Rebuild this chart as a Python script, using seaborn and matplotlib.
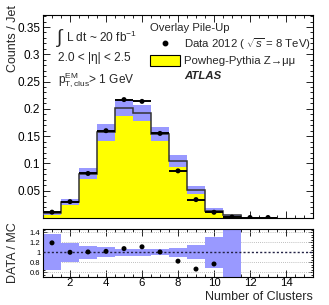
import numpy as np
import pandas as pd
import matplotlib
matplotlib.use("Agg")
import matplotlib.pyplot as plt
from matplotlib.ticker import MultipleLocator, FixedLocator
from matplotlib.lines import Line2D
from matplotlib.patches import Patch
import seaborn as sns

# number of clusters (bin centres)
clusters = [1, 2, 3, 4, 5, 6, 7, 8, 9, 10, 11, 12, 13]
# MC (Powheg-Pythia Z->mumu, overlay pile-up)
mc = [0.009, 0.030, 0.081, 0.157, 0.202, 0.1925, 0.154, 0.105, 0.0507, 0.0137, 0.0052, 0.0, 0.0]
mc_err = [0.0035, 0.0055, 0.010, 0.016, 0.0145, 0.0145, 0.0135, 0.011, 0.0075, 0.0045, 0.001, 0.0, 0.0]
# data 2012
data = [0.0107, 0.030, 0.0816, 0.160, 0.217, 0.2137, 0.155, 0.0864, 0.0337, 0.0105, 0.0016, 0.0009, 0.0009]
# ratio panel band (relative MC uncertainty)
ratio_err = [0.36, 0.19, 0.125, 0.10, 0.07, 0.07, 0.06, 0.095, 0.14, 0.31, 1.0, 0.0, 0.0]

sns.set_style("ticks")
plt.rcParams['font.family'] = ['Liberation Sans', 'DejaVu Sans']
plt.rcParams['mathtext.fontset'] = 'custom'
plt.rcParams['mathtext.rm'] = 'Liberation Sans'
plt.rcParams['mathtext.it'] = 'Liberation Sans:italic'
plt.rcParams['mathtext.bf'] = 'Liberation Sans:bold'

YELLOW = "#ffff00"
BAND = "#9999ff"
LINE = "#333333"

df = pd.DataFrame({"clusters": clusters, "mc": mc, "mc_err": mc_err,
                   "data": data, "ratio_err": ratio_err})
x = df["clusters"].to_numpy(dtype=float)
mcv = df["mc"].to_numpy()
errv = df["mc_err"].to_numpy()
datav = df["data"].to_numpy()
rerr = df["ratio_err"].to_numpy()
edges = list(np.append(x - 0.5, x[-1] + 0.5))

fig = plt.figure(figsize=(3.29, 3.05), dpi=100)
W, H = 329.0, 305.0
ax = fig.add_axes([43 / W, 1 - 218 / H, 270 / W, 203 / H])
rax = fig.add_axes([43 / W, 1 - 277 / H, 270 / W, 48 / H])

# main panel
sns.histplot(data=df, x="clusters", weights="mc", bins=edges, element="step", fill=True,
             color=YELLOW, alpha=1, linewidth=0, ax=ax)
mask = mcv > 0
ax.bar(x[mask], 2 * errv[mask], bottom=(mcv - errv)[mask], width=1.0,
       color=BAND, linewidth=0, zorder=3)
n_mc = int(mask.sum())
ax.stairs(mcv[:n_mc], edges[:n_mc + 1], color=LINE, linewidth=1.1, baseline=0, zorder=4)
ax.errorbar(x, datav, xerr=0.5, fmt="none", ecolor="black", elinewidth=1.4, zorder=5)
sns.scatterplot(data=df, x="clusters", y="data", color="black", s=13, edgecolor="none",
                zorder=6, ax=ax)

ax.set_xlim(0.5, 15.5)
ax.set_ylim(0, 0.372)
ax.set_xlabel("")
ax.set_ylabel("Counts / Jet", fontsize=9, loc="top")
ax.yaxis.set_label_coords(-0.09, 1.05)
ax.yaxis.set_major_locator(FixedLocator([0.05, 0.1, 0.15, 0.2, 0.25, 0.3, 0.35]))
ax.yaxis.set_minor_locator(MultipleLocator(0.01))
ax.set_yticklabels(["0.05", "0.1", "0.15", "0.2", "0.25", "0.3", "0.35"])

handles = [Line2D([], [], marker="o", color="black", linestyle="none", markersize=3.2),
           Patch(facecolor=YELLOW, edgecolor="black", linewidth=0.8),
           Patch(facecolor="none", edgecolor="none")]
labels = [r"Data 2012 ( $\sqrt{s}$ = 8 TeV)", "Powheg-Pythia Z\u2192\u03bc\u03bc", "ATLAS"]
leg = ax.legend(handles, labels, title="Overlay Pile-Up", loc="upper left",
                bbox_to_anchor=(0.397, 0.963), frameon=False, fontsize=8.2,
                title_fontsize=8.2, handlelength=2.6, handleheight=1.0,
                handletextpad=0.4, labelspacing=0.32, borderaxespad=0, borderpad=0)
leg._legend_box.align = "left"
leg.get_texts()[2].set_fontweight("bold")
leg.get_texts()[2].set_fontstyle("italic")

ax.text(0.05, 0.885, r"$\int$", transform=ax.transAxes, fontsize=14, va="center")
ax.text(0.085, 0.89, r"L dt ~ 20 fb$^{-1}$", transform=ax.transAxes,
        fontsize=8.6, va="center")
ax.text(0.055, 0.79, "2.0 < |\u03b7| < 2.5", transform=ax.transAxes,
        fontsize=8.6, va="center")
ax.text(0.055, 0.68, r"p$_{\mathrm{T,clus}}^{\mathrm{EM}}$> 1 GeV", transform=ax.transAxes,
        fontsize=8.6, va="center")

# ratio panel
df["ratio"] = np.where(mcv > 0, datav / np.where(mcv > 0, mcv, 1), np.nan)
rmask = rerr > 0
rax.bar(x[rmask], 2 * rerr[rmask], bottom=1 - rerr[rmask], width=1.0,
        color=BAND, linewidth=0, zorder=2)
for yv in [0.6, 0.8, 1.2, 1.4]:
    rax.axhline(yv, color="#aaaaaa", linestyle=(0, (1, 1.5)), linewidth=0.6, zorder=1)
rax.axhline(1.0, color="#222244", linestyle=(0, (1.5, 1.5)), linewidth=1.0, zorder=3)
sns.scatterplot(data=df, x="clusters", y="ratio", color="black", s=13, edgecolor="none",
                zorder=5, ax=rax)
rax.set_xlim(0.5, 15.5)
rax.set_ylim(0.506, 1.466)
rax.yaxis.set_major_locator(FixedLocator([0.6, 0.8, 1.0, 1.2, 1.4]))
rax.set_yticklabels(["0.6", "0.8", "1", "1.2", "1.4"])
rax.yaxis.set_minor_locator(MultipleLocator(0.05))
rax.set_ylabel("DATA / MC", fontsize=9)
rax.yaxis.set_label_coords(-0.09, 0.5)
rax.set_xlabel("Number of Clusters", fontsize=9, loc="right", va="top")
rax.xaxis.set_label_coords(1.0, -0.3)

for a in (ax, rax):
    a.xaxis.set_major_locator(MultipleLocator(2))
    a.xaxis.set_minor_locator(MultipleLocator(0.5))
    a.tick_params(which="both", direction="in", top=True, right=True, width=0.6, colors="black")
    a.tick_params(which="major", length=5)
    a.tick_params(which="minor", length=2.5)
    for s in a.spines.values():
        s.set_linewidth(0.8)
        s.set_color("black")
ax.tick_params(axis="x", labelbottom=False)
ax.tick_params(axis="y", labelsize=8.5, pad=2)
rax.tick_params(axis="y", labelsize=5.5, pad=2)
rax.tick_params(axis="x", labelsize=8.2, pad=1)
rax.tick_params(axis="y", which="major", length=3)
rax.tick_params(axis="y", which="minor", length=1.5)

fig.savefig("out.png", dpi=100)
